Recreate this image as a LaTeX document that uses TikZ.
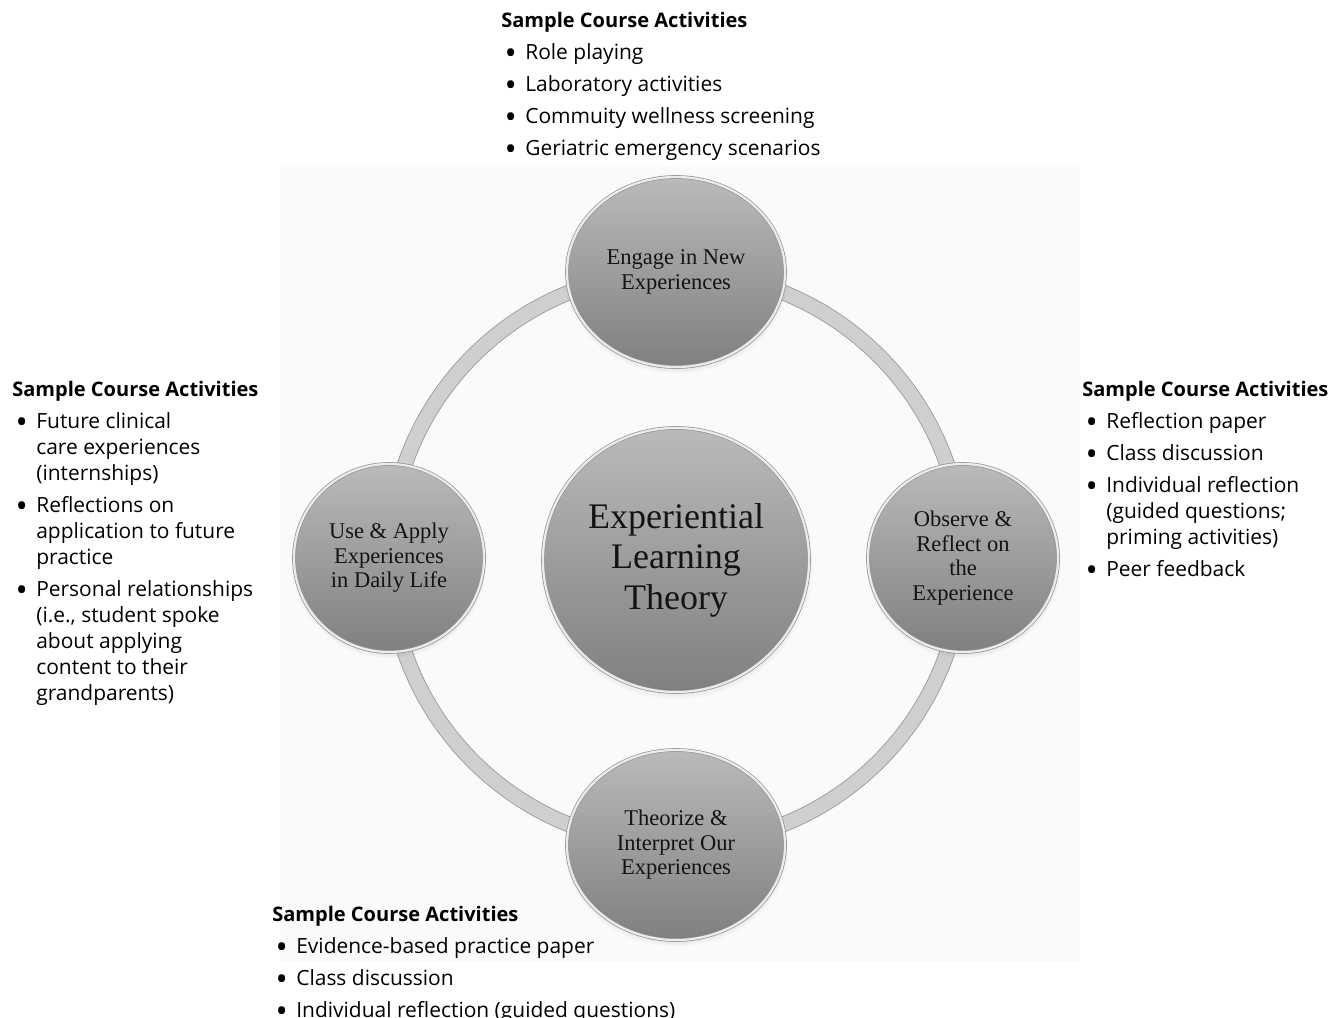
\documentclass[tikz,border=0pt]{standalone}
\usepackage{fontspec}
\newfontfamily\actsans{Open Sans}
\newfontfamily\circserif{Liberation Serif}
\usetikzlibrary{shapes.geometric,shadows,backgrounds}

\newcommand{\acthead}{{\fontsize{14.25pt}{18.5pt}\selectfont\textbf{Sample Course Activities}}}
\newcommand{\itm}{\\[4.3pt]\hspace*{2.4pt}\makebox[14.7pt][l]{\raisebox{-3.2pt}{\scalebox{1.55}{\textbullet}}}}
\newcommand{\cnt}{\\\hspace*{17.1pt}}

\tikzset{
  acts/.style={anchor=north west, align=left, inner sep=0pt,
    font=\actsans\fontsize{14.9pt}{18.5pt}\selectfont},
  stage/.style={ellipse, inner sep=0pt, align=center, text=black!92,
    top color=black!27, bottom color=black!50,
    draw=black!42, line width=0.5pt, double=black!8, double distance=1.6pt,
    circular drop shadow={shadow xshift=0pt, shadow yshift=-2.5pt, shadow scale=1.03, opacity=0.35},
    font=\circserif\fontsize{16pt}{17.4pt}\selectfont},
  ring/.style={draw=black!40, line width=0.6pt, double=black!19, double distance=10pt},
}

\begin{document}
\begin{tikzpicture}[x=0.025cm, y=-0.025cm]
	\useasboundingbox (0,0) rectangle (1328,1018);
	%stages
	\node[stage, minimum width=6.65cm, minimum height=6.6cm, font=\circserif\fontsize{25.6pt}{28.8pt}\selectfont] (theory) at (676,560) {Experiential\\Learning\\Theory};
	\node[stage, minimum width=5.45cm, minimum height=4.75cm] (engage) at (676,272) {Engage in New\\Experiences};
	\node[stage, minimum width=4.75cm, minimum height=4.7cm] (observe) at (963,558) {Observe \&\\Reflect on\\the\\Experience};
	\node[stage, minimum width=5.45cm, minimum height=4.75cm] (theorize) at (676,845) {Theorize \&\\Interpret Our\\Experiences};
	\node[stage, minimum width=4.75cm, minimum height=4.7cm] (apply) at (389,558) {Use \& Apply\\Experiences\\in Daily Life};

	%activities
	\node[acts] (topacts) at (501,12) {\acthead
		\itm Role playing
		\itm Laboratory activities
		\itm Commuity wellness screening
		\itm Geriatric emergency scenarios};
	\node[acts] (rightacts) at (1082,381) {\acthead
		\itm Reflection paper
		\itm Class discussion
		\itm Individual reflection\cnt (guided questions;\cnt priming activities)
		\itm Peer feedback};
	\node[acts] (bottomacts) at (272,906) {\acthead
		\itm Evidence-based practice paper
		\itm Class discussion
		\itm Individual reflection (guided questions)};
	\node[acts] (leftacts) at (12,381) {\acthead
		\itm Future clinical\cnt care experiences\cnt (internships)
		\itm Reflections on\cnt application to future\cnt practice
		\itm Personal relationships\cnt (i.e., student spoke\cnt about applying\cnt content to their\cnt grandparents)};

	%ring
	\begin{pgfonlayer}{background}
		\fill[black!2] (280,165) rectangle (1080,962);
		\draw[ring] (engage.center) to[bend left=45] (observe.center) to[bend left=45] (theorize.center)
			to[bend left=45] (apply.center) to[bend left=45] (engage.center);
	\end{pgfonlayer}
\end{tikzpicture}
\end{document}
